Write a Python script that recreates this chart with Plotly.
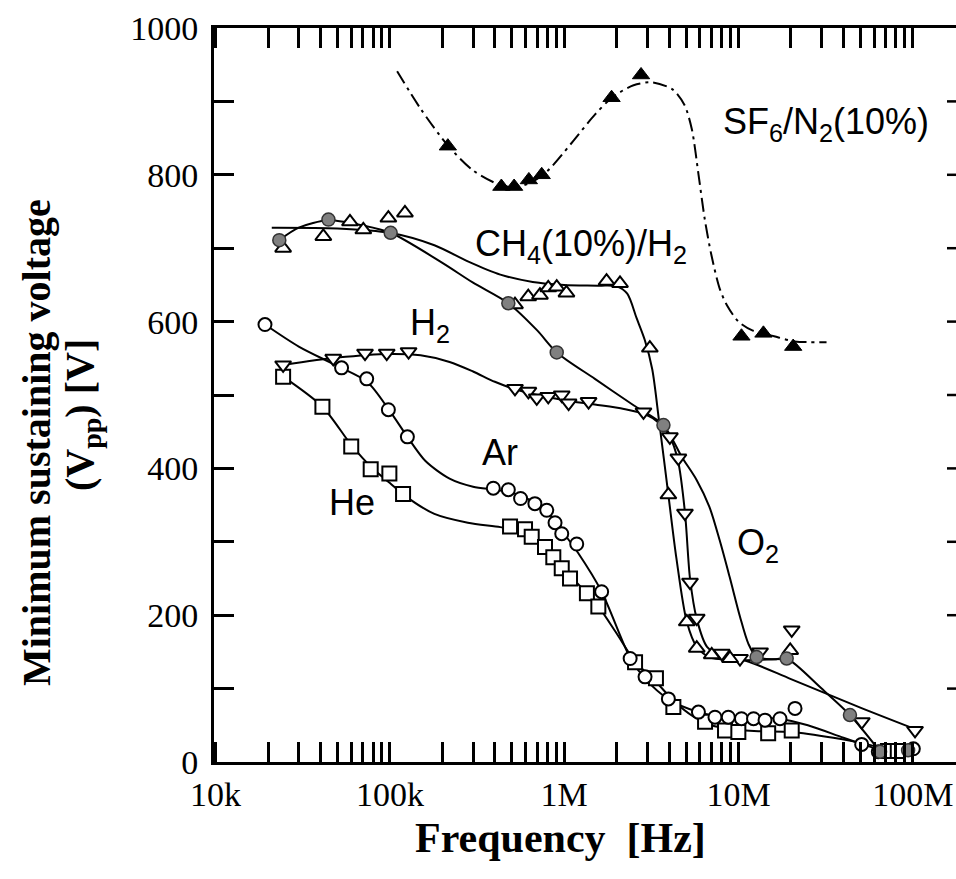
import plotly.graph_objects as go

# ---------------- data ----------------
# He (open squares)
he_f = [2.44e4, 4.1e4, 6.0e4, 7.76e4, 9.93e4, 1.19e5, 4.89e5, 5.96e5, 6.51e5, 7.76e5, 8.66e5,
        9.68e5, 1.08e6, 1.35e6, 1.57e6, 2.55e6, 3.36e6, 4.23e6, 6.43e6, 8.37e6, 9.98e6, 1.48e7,
        2.02e7, 7.2e7, 8.2e7]
he_v = [525, 484, 430, 399, 393, 365, 321, 317, 307, 293, 279, 264, 250, 230, 212, 136, 114, 75,
        55, 43, 41, 39, 43, 15, 15]
he_curve_f = [2.44e4, 4.1e4, 6e4, 7.8e4, 1e5, 1.2e5, 1.8e5, 2.8e5, 4.3e5, 5.5e5, 7e5, 8.5e5, 1e6,
              1.25e6, 1.57e6, 2e6, 2.55e6, 3.4e6, 4.3e6, 5.5e6, 7e6, 9e6, 1.3e7, 2e7, 3.5e7, 5.5e7,
              8e7, 1e8]
he_curve_v = [525, 484, 432, 402, 380, 364, 338, 326, 320, 315, 302, 283, 262, 238, 212, 175, 137,
              108, 82, 62, 50, 45, 42, 41, 33, 24, 15, 12]

# Ar (open circles)
ar_f = [1.92e4, 5.28e4, 7.36e4, 9.8e4, 1.26e5, 3.92e5, 4.78e5, 5.62e5, 6.79e5, 7.94e5, 8.86e5,
        9.68e5, 1.18e6, 1.64e6, 2.39e6, 2.91e6, 3.96e6, 5.89e6, 7.33e6, 8.74e6, 1.04e7, 1.22e7,
        1.42e7, 1.73e7, 2.11e7, 5.09e7, 6.34e7, 1.007e8]
ar_v = [596, 537, 522, 480, 443, 373, 371, 359, 352, 343, 326, 311, 297, 232, 141, 116, 86, 68,
        61, 61, 59, 59, 57, 59, 73, 24, 14, 18]
ar_curve_f = [1.92e4, 3e4, 4.95e4, 7.4e4, 1e5, 1.26e5, 1.6e5, 2.2e5, 3e5, 4e5, 5e5, 6.5e5, 8e5,
              9.7e5, 1.2e6, 1.64e6, 2.4e6, 2.9e6, 4e6, 5.9e6, 8e6, 1.2e7, 1.7e7, 2.5e7, 4e7,
              5.5e7, 7e7]
ar_curve_v = [596, 566, 540, 518, 478, 443, 410, 386, 375, 371, 367, 356, 341, 315, 285, 232, 141,
              114, 85, 68, 62, 60, 59, 50, 33, 22, 14]

# H2 (open down triangles)
h2_f = [2.44e4, 4.73e4, 7.2e4, 9.59e4, 1.28e5, 5.22e5, 6.23e5, 6.96e5, 8.1e5, 9.68e5, 1.06e6,
        1.38e6, 2.85e6, 4.04e6, 4.52e6, 4.93e6, 5.27e6, 5.76e6, 8.02e6, 1.02e7, 1.33e7, 2.02e7,
        5.1e7, 1.03e8]
h2_v = [541, 550, 557, 557, 559, 509, 505, 496, 498, 500, 489, 491, 477, 443, 414, 339, 245, 196,
        148, 141, 150, 180, 55, 43]
h2_curve_f = [2.44e4, 5e4, 1e5, 1.5e5, 2.2e5, 3e5, 4e5, 5.2e5, 7e5, 1e6, 1.5e6, 2.2e6, 2.9e6,
              3.5e6, 4.04e6, 4.5e6, 4.93e6, 5.27e6, 5.76e6, 6.6e6, 8.2e6, 1.1e7, 2e7, 5e7, 1.05e8]
h2_curve_v = [541, 551, 556, 554, 545, 532, 518, 508, 500, 493, 487, 481, 474, 462, 443, 410, 340,
              250, 195, 157, 143, 138, 113, 74, 44]

# CH4(10%)/H2 (open up triangles)
ch4_f = [2.44e4, 4.15e4, 5.9e4, 7.04e4, 9.8e4, 1.22e5, 5.22e5, 6.22e5, 7.26e5, 8.1e5, 9.06e5,
         1.03e6, 1.75e6, 2.09e6, 3.1e6, 3.96e6, 5.05e6, 5.76e6, 7.02e6, 8.94e6, 1.98e7]
ch4_v = [700, 716, 736, 725, 741, 748, 623, 634, 636, 646, 647, 639, 655, 652, 564, 364, 191, 155,
         146, 141, 152]
ch4_curve_f = [2.1e4, 5e4, 1e5, 1.8e5, 2.8e5, 4.3e5, 6.6e5, 1e6, 1.6e6, 2e6, 2.3e6, 2.6e6, 2.9e6,
               3.2e6, 3.5e6, 3.96e6, 4.4e6, 5.05e6, 5.76e6, 6.8e6, 8.9e6, 1.27e7, 2e7]
ch4_curve_v = [728, 727, 721, 704, 682, 664, 654, 650, 649, 648, 638, 605, 575, 535, 465, 364, 278,
               191, 157, 143, 139, 139, 141]

# O2 (grey filled circles)
o2_f = [2.32e4, 4.44e4, 1.01e5, 4.78e5, 9.06e5, 3.71e6, 1.27e7, 1.89e7, 4.36e7, 6.49e7, 9.4e7]
o2_v = [711, 739, 721, 625, 558, 459, 143, 141, 64, 14, 16]
o2_curve_f = [2.32e4, 3e4, 4.44e4, 7e4, 1.01e5, 2e5, 3e5, 4.78e5, 7e5, 9.06e5, 1.5e6, 2.5e6,
              3.71e6, 4.72e6, 5.76e6, 6.8e6, 7.8e6, 8.9e6, 1.02e7, 1.14e7, 1.27e7, 1.6e7, 1.89e7,
              3e7, 4.36e7, 6.5e7]
o2_curve_v = [711, 728, 738, 731, 721, 680, 653, 625, 588, 558, 522, 486, 459, 416, 384, 348, 302,
              252, 198, 161, 143, 140, 141, 100, 64, 14]

# SF6/N2(10%) (black filled triangles, dash-dot curve)
sf6_f = [2.15e5, 4.36e5, 5.16e5, 6.27e5, 7.43e5, 1.87e6, 2.76e6, 1.04e7, 1.39e7, 2.06e7]
sf6_v = [839, 784, 784, 793, 800, 905, 936, 580, 584, 566]
sf6_curve_f = [1.1e5, 1.5e5, 2.15e5, 3e5, 4.2e5, 5.2e5, 6.5e5, 8e5, 1.1e6, 1.5e6, 1.9e6, 2.5e6,
               3.2e6, 4.2e6, 4.9e6, 5.4e6, 5.9e6, 6.4e6, 7.0e6, 7.8e6, 8.6e6, 1.0e7, 1.2e7,
               1.6e7, 2.1e7, 3.2e7]
sf6_curve_v = [941, 890, 840, 806, 787, 783, 790, 805, 843, 882, 906, 922, 926, 916, 895, 862, 800,
               740, 690, 645, 622, 600, 588, 580, 573, 572]

# axes
x_decades = [1e4, 1e5, 1e6, 1e7, 1e8]
x_tick_labels = ["10k", "100k", "1M", "10M", "100M"]
y_ticks = [0, 100, 200, 300, 400, 500, 600, 700, 800, 900, 1000]
y_tick_labels = ["0", "", "200", "", "400", "", "600", "", "800", "", "1000"]

# ---------------- figure ----------------
L_PX, R_PX, T_PX, B_PX = 214, 956, 28, 762


def px(xp):
    return (xp - L_PX) / (R_PX - L_PX)


def py(yp):
    return (B_PX - yp) / (B_PX - T_PX)


fig = go.Figure()

line_style = dict(color="black", width=2, shape="spline", smoothing=0.8)
for cf, cv in [(he_curve_f, he_curve_v), (ar_curve_f, ar_curve_v), (h2_curve_f, h2_curve_v),
               (ch4_curve_f, ch4_curve_v), (o2_curve_f, o2_curve_v)]:
    fig.add_trace(go.Scatter(x=cf, y=cv, mode="lines", line=line_style, hoverinfo="skip",
                             showlegend=False))
fig.add_trace(go.Scatter(x=sf6_curve_f, y=sf6_curve_v, mode="lines",
                         line=dict(color="black", width=2, shape="spline", smoothing=0.8,
                                   dash="14px,5px,3px,5px"),
                         hoverinfo="skip", showlegend=False))


def markers(f, v, symbol, size, fill):
    fig.add_trace(go.Scatter(x=f, y=v, mode="markers", showlegend=False,
                             marker=dict(symbol=symbol, size=size, color=fill,
                                         line=dict(color="black", width=2))))


markers(he_f, he_v, "square", 14, "white")
markers(ar_f, ar_v, "circle", 13, "white")
markers(h2_f, h2_v, "triangle-down", 14, "white")
markers(ch4_f, ch4_v, "triangle-up", 14, "white")
fig.add_trace(go.Scatter(x=o2_f, y=o2_v, mode="markers", showlegend=False,
                         marker=dict(symbol="circle", size=13, color="#808080",
                                     line=dict(color="#333333", width=1.5))))
fig.add_trace(go.Scatter(x=sf6_f, y=sf6_v, mode="markers", showlegend=False,
                         marker=dict(symbol="triangle-up", size=15, color="black",
                                     line=dict(color="black", width=1))))

# ticks
x_tickvals = [m * d for d in x_decades for m in range(1, 10) if m * d <= 1.7e8]
x_ticktext = [x_tick_labels[x_decades.index(t)] if t in x_decades else "" for t in x_tickvals]

serif = "Liberation Serif"
sans = "Liberation Sans"

fig.update_xaxes(type="log", range=[3.9908, 8.2479], tickmode="array", tickvals=x_tickvals,
                 ticktext=x_ticktext, ticks="inside", ticklen=20, tickwidth=2.5,
                 tickcolor="black", showline=True, linewidth=3, linecolor="black",
                 mirror="ticks", showgrid=False, zeroline=False, ticklabeloverflow="allow",
                 tickfont=dict(family=serif, size=34, color="black"), ticklabelstandoff=0)
fig.update_yaxes(range=[0, 1000], tickmode="array", tickvals=y_ticks, ticktext=y_tick_labels,
                 ticks="inside", ticklen=20, tickwidth=2.5, tickcolor="black", showline=True,
                 linewidth=3, linecolor="black", mirror=False, showgrid=False, zeroline=False,
                 tickfont=dict(family=serif, size=34, color="black"), ticklabelstandoff=6)

# right-side ticks (the right frame lies just outside the picture)
shapes = []
for v in y_ticks[1:-1]:
    shapes.append(dict(type="line", xref="paper", yref="y", x0=px(947), x1=1.0, y0=v, y1=v,
                       line=dict(color="black", width=2.5)))

annotations = [
    dict(text="SF<sub>6</sub>/N<sub>2</sub>(10%)", x=px(826), y=py(124)),
    dict(text="CH<sub>4</sub>(10%)/H<sub>2</sub>", x=px(581), y=py(246)),
    dict(text="H<sub>2</sub>", x=px(430), y=py(325)),
    dict(text="Ar", x=px(500), y=py(452)),
    dict(text="He", x=px(352), y=py(503)),
    dict(text="O<sub>2</sub>", x=px(758), y=py(545)),
]
for a in annotations:
    a.update(xref="paper", yref="paper", showarrow=False, xanchor="center", yanchor="middle",
             font=dict(family=sans, size=36, color="black"))

annotations += [
    dict(text="<b>Frequency  [Hz]</b>", x=px(560), y=py(838), xref="paper", yref="paper",
         showarrow=False, xanchor="center", yanchor="middle",
         font=dict(family=serif, size=42, color="black")),
    dict(text="<b>Minimum sustaining voltage</b>", x=px(36), y=py(443), xref="paper",
         yref="paper", showarrow=False, xanchor="center", yanchor="middle", textangle=-90,
         font=dict(family=serif, size=40, color="black")),
    dict(text="<b>(V<sub>pp</sub>) [V]</b>", x=px(82), y=py(415), xref="paper",
         yref="paper", showarrow=False, xanchor="center", yanchor="middle", textangle=-90,
         font=dict(family=serif, size=40, color="black")),
]

fig.update_layout(width=956, height=879, margin=dict(l=L_PX, r=956 - R_PX, t=T_PX, b=879 - B_PX),
                  paper_bgcolor="white", plot_bgcolor="white", showlegend=False,
                  shapes=shapes, annotations=annotations)

fig.write_html("out.html")
